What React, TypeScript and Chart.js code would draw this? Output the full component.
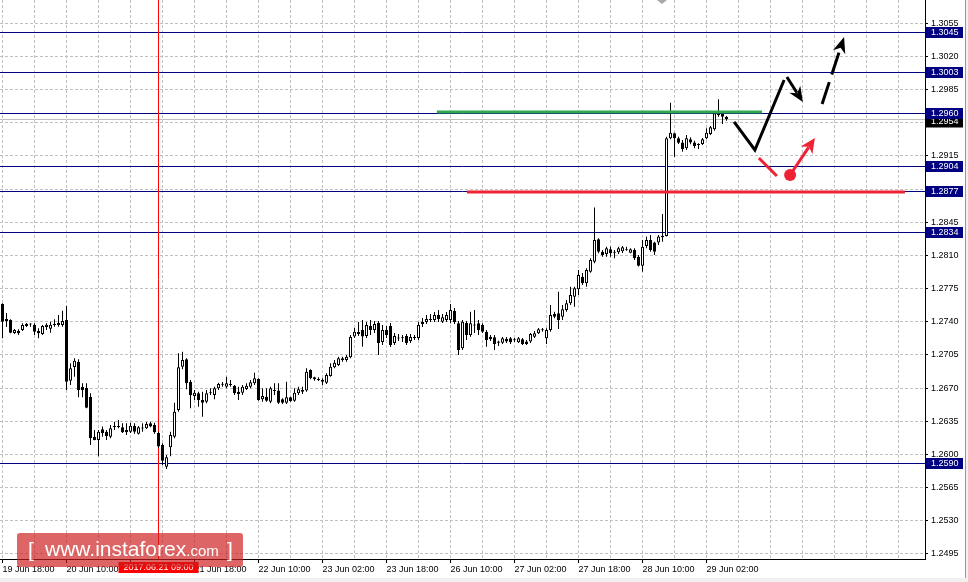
import { useEffect, useRef } from "react";
import { Chart, registerables } from "chart.js";
Chart.register(...registerables);

const FONT = "'Liberation Sans', Arial, sans-serif";

// Time axis labels, one every 16 hourly candles
const timeLabels = [
  "19 Jun 18:00", "20 Jun 10:00", "21 Jun 02:00", "21 Jun 18:00", "22 Jun 10:00", "23 Jun 02:00",
  "23 Jun 18:00", "26 Jun 10:00", "27 Jun 02:00", "27 Jun 18:00", "28 Jun 10:00", "29 Jun 02:00",
];

// H1 candles (index 0 = 19 Jun 18:00)
const open = [
  1.27588, 1.27430, 1.27419, 1.27282, 1.27303, 1.27313, 1.27356, 1.27377, 1.27370, 1.27303,
  1.27271, 1.27345, 1.27327, 1.27377, 1.27387, 1.27366, 1.27419, 1.26779, 1.26923, 1.26979,
  1.26716, 1.26705, 1.26610, 1.26188, 1.26153, 1.26266, 1.26241, 1.26188, 1.26290, 1.26301,
  1.26287, 1.26259, 1.26241, 1.26301, 1.26220, 1.26280, 1.26276, 1.26329, 1.26311, 1.26230,
  1.26100, 1.25871, 1.26076, 1.26188, 1.26470, 1.26927, 1.27004, 1.26768, 1.26617, 1.26645,
  1.26575, 1.26557, 1.26645, 1.26627, 1.26698, 1.26744, 1.26716, 1.26744, 1.26726, 1.26662,
  1.26651, 1.26691, 1.26716, 1.26751, 1.26797, 1.26582, 1.26610, 1.26557, 1.26681, 1.26674,
  1.26582, 1.26547, 1.26604, 1.26568, 1.26645, 1.26681, 1.26674, 1.26892, 1.26815, 1.26794,
  1.26786, 1.26758, 1.26829, 1.26920, 1.26945, 1.27015, 1.26997, 1.27025, 1.27246, 1.27292,
  1.27313, 1.27250, 1.27356, 1.27313, 1.27387, 1.27187, 1.27313, 1.27356, 1.27176, 1.27229,
  1.27229, 1.27250, 1.27197, 1.27240, 1.27229, 1.27377, 1.27398, 1.27430, 1.27419, 1.27472,
  1.27401, 1.27419, 1.27419, 1.27514, 1.27384, 1.27120, 1.27387, 1.27261, 1.27366, 1.27384,
  1.27366, 1.27296, 1.27243, 1.27236, 1.27191, 1.27180, 1.27219, 1.27226, 1.27208, 1.27184,
  1.27215, 1.27191, 1.27191, 1.27243, 1.27278, 1.27313, 1.27226, 1.27313, 1.27482, 1.27490,
  1.27454, 1.27525, 1.27595, 1.27665, 1.27743, 1.27876, 1.27807, 1.27929, 1.28035, 1.28271,
  1.28140, 1.28116, 1.28165, 1.28133, 1.28133, 1.28144, 1.28165, 1.28129, 1.28158, 1.28087,
  1.27991, 1.28200, 1.28264, 1.28236, 1.28236, 1.28307, 1.28306, 1.29337, 1.29389, 1.29337,
  1.29291, 1.29231, 1.29326, 1.29291, 1.29277, 1.29277, 1.29337, 1.29382, 1.29432, 1.29601,
  1.29593, 1.29565,
];
const high = [
  1.27595, 1.27493, 1.27426, 1.27324, 1.27321, 1.27384, 1.27387, 1.27384, 1.27384, 1.27331,
  1.27366, 1.27384, 1.27401, 1.27426, 1.27472, 1.27517, 1.27567, 1.26963, 1.27015, 1.27004,
  1.26751, 1.26751, 1.26645, 1.26259, 1.26259, 1.26294, 1.26259, 1.26311, 1.26346, 1.26364,
  1.26329, 1.26329, 1.26336, 1.26329, 1.26301, 1.26329, 1.26343, 1.26346, 1.26336, 1.26241,
  1.26118, 1.25995, 1.26241, 1.26547, 1.27068, 1.27085, 1.27015, 1.26786, 1.26681, 1.26662,
  1.26662, 1.26681, 1.26698, 1.26716, 1.26758, 1.26765, 1.26821, 1.26786, 1.26733, 1.26716,
  1.26733, 1.26751, 1.26786, 1.26863, 1.26804, 1.26698, 1.26698, 1.26716, 1.26751, 1.26751,
  1.26593, 1.26768, 1.26610, 1.26698, 1.26716, 1.26716, 1.26910, 1.26899, 1.26821, 1.26815,
  1.26804, 1.26856, 1.26963, 1.26997, 1.27032, 1.27032, 1.27050, 1.27261, 1.27335, 1.27398,
  1.27419, 1.27398, 1.27419, 1.27408, 1.27408, 1.27366, 1.27356, 1.27387, 1.27282, 1.27271,
  1.27261, 1.27271, 1.27271, 1.27261, 1.27398, 1.27440, 1.27472, 1.27482, 1.27503, 1.27525,
  1.27482, 1.27503, 1.27588, 1.27546, 1.27408, 1.27419, 1.27408, 1.27507, 1.27525, 1.27419,
  1.27384, 1.27313, 1.27261, 1.27261, 1.27201, 1.27240, 1.27240, 1.27240, 1.27229, 1.27240,
  1.27229, 1.27208, 1.27282, 1.27303, 1.27335, 1.27335, 1.27331, 1.27577, 1.27507, 1.27718,
  1.27577, 1.27630, 1.27770, 1.27770, 1.27947, 1.27915, 1.27965, 1.28070, 1.28605, 1.28282,
  1.28158, 1.28193, 1.28193, 1.28158, 1.28193, 1.28200, 1.28193, 1.28176, 1.28176, 1.28105,
  1.28264, 1.28299, 1.28317, 1.28246, 1.28317, 1.28539, 1.29354, 1.29712, 1.29396, 1.29354,
  1.29319, 1.29372, 1.29347, 1.29312, 1.29284, 1.29340, 1.29442, 1.29466, 1.29607, 1.29748,
  1.29601, 1.29572,
];
const low = [
  1.27226, 1.27345, 1.27278, 1.27271, 1.27261, 1.27303, 1.27345, 1.27348, 1.27261, 1.27226,
  1.27261, 1.27313, 1.27285, 1.27348, 1.27348, 1.27348, 1.26681, 1.26733, 1.26821, 1.26604,
  1.26604, 1.26487, 1.26100, 1.26150, 1.25982, 1.26188, 1.26153, 1.26171, 1.26259, 1.26276,
  1.26227, 1.26206, 1.26227, 1.26220, 1.26212, 1.26241, 1.26269, 1.26287, 1.26220, 1.26069,
  1.25889, 1.25847, 1.25982, 1.26171, 1.26452, 1.26899, 1.26688, 1.26487, 1.26575, 1.26504,
  1.26399, 1.26540, 1.26627, 1.26582, 1.26681, 1.26716, 1.26698, 1.26716, 1.26627, 1.26575,
  1.26627, 1.26681, 1.26698, 1.26733, 1.26568, 1.26557, 1.26557, 1.26540, 1.26627, 1.26533,
  1.26533, 1.26533, 1.26557, 1.26557, 1.26627, 1.26638, 1.26662, 1.26794, 1.26779, 1.26776,
  1.26733, 1.26744, 1.26821, 1.26910, 1.26934, 1.26979, 1.26979, 1.27015, 1.27229, 1.27250,
  1.27137, 1.27229, 1.27261, 1.27282, 1.27050, 1.27155, 1.27229, 1.27134, 1.27155, 1.27197,
  1.27187, 1.27155, 1.27176, 1.27208, 1.27208, 1.27345, 1.27377, 1.27398, 1.27398, 1.27398,
  1.27387, 1.27398, 1.27384, 1.27377, 1.27050, 1.27102, 1.27208, 1.27243, 1.27282, 1.27261,
  1.27282, 1.27137, 1.27197, 1.27102, 1.27145, 1.27166, 1.27176, 1.27166, 1.27187, 1.27176,
  1.27155, 1.27155, 1.27176, 1.27229, 1.27271, 1.27296, 1.27166, 1.27296, 1.27437, 1.27324,
  1.27419, 1.27507, 1.27577, 1.27559, 1.27683, 1.27789, 1.27770, 1.27919, 1.28018, 1.28123,
  1.28087, 1.28087, 1.28087, 1.28070, 1.28116, 1.28126, 1.28151, 1.28123, 1.28053, 1.27983,
  1.27929, 1.28176, 1.28140, 1.28105, 1.28211, 1.28246, 1.28299, 1.29326, 1.29143, 1.29277,
  1.29195, 1.29213, 1.29273, 1.29231, 1.29224, 1.29266, 1.29326, 1.29372, 1.29417, 1.29565,
  1.29487, 1.29522,
];
const close = [
  1.27401, 1.27408, 1.27285, 1.27313, 1.27278, 1.27366, 1.27377, 1.27372, 1.27296, 1.27278,
  1.27356, 1.27370, 1.27370, 1.27366, 1.27366, 1.27408, 1.26768, 1.26909, 1.26989, 1.26681,
  1.26681, 1.26494, 1.26171, 1.26153, 1.26241, 1.26227, 1.26195, 1.26276, 1.26301, 1.26290,
  1.26234, 1.26234, 1.26304, 1.26241, 1.26287, 1.26275, 1.26322, 1.26294, 1.26234, 1.26083,
  1.25934, 1.25970, 1.26206, 1.26452, 1.26920, 1.26997, 1.26751, 1.26624, 1.26651, 1.26575,
  1.26547, 1.26645, 1.26651, 1.26698, 1.26744, 1.26737, 1.26751, 1.26733, 1.26645, 1.26638,
  1.26716, 1.26726, 1.26761, 1.26804, 1.26575, 1.26617, 1.26568, 1.26698, 1.26670, 1.26547,
  1.26547, 1.26604, 1.26564, 1.26651, 1.26688, 1.26662, 1.26874, 1.26804, 1.26794, 1.26786,
  1.26768, 1.26839, 1.26927, 1.26969, 1.27015, 1.26997, 1.27032, 1.27240, 1.27296, 1.27271,
  1.27245, 1.27366, 1.27313, 1.27377, 1.27176, 1.27313, 1.27261, 1.27155, 1.27250, 1.27224,
  1.27226, 1.27176, 1.27240, 1.27229, 1.27366, 1.27398, 1.27430, 1.27419, 1.27472, 1.27430,
  1.27447, 1.27472, 1.27524, 1.27398, 1.27102, 1.27401, 1.27261, 1.27384, 1.27361, 1.27313,
  1.27296, 1.27208, 1.27215, 1.27166, 1.27180, 1.27226, 1.27191, 1.27184, 1.27205, 1.27226,
  1.27166, 1.27166, 1.27271, 1.27278, 1.27321, 1.27310, 1.27313, 1.27472, 1.27454, 1.27419,
  1.27532, 1.27595, 1.27683, 1.27753, 1.27894, 1.27807, 1.27947, 1.28052, 1.28264, 1.28140,
  1.28105, 1.28176, 1.28123, 1.28129, 1.28176, 1.28186, 1.28154, 1.28165, 1.28070, 1.27991,
  1.28193, 1.28264, 1.28158, 1.28140, 1.28299, 1.28293, 1.29337, 1.29396, 1.29337, 1.29290,
  1.29221, 1.29337, 1.29291, 1.29256, 1.29266, 1.29326, 1.29396, 1.29453, 1.29601, 1.29583,
  1.29565, 1.29540,
];

// Price axis ticks
const priceTicks = [
  1.2495, 1.2530, 1.2565, 1.2600, 1.2635, 1.2670, 1.2705, 1.2740, 1.2775,
  1.2810, 1.2845, 1.2880, 1.2915, 1.2950, 1.2985, 1.3020, 1.3055,
];
// Horizontal support / resistance levels
const levels = [1.3045, 1.3003, 1.2960, 1.2904, 1.2877, 1.2834, 1.2590];
const currentPrice = 1.2954;
const markerIndex = 39;
const markerLabel = "2017.06.21 09:00";

// Drawn annotations: [candle index, price]
const greenLine = [108.6, 189.9, 1.29615];
const redLine = [116.1, 225.6, 1.2877];
const blackPath = [[182.9, 1.29509], [188.1, 1.29213], [195.4, 1.29952]];
const blackArrow = [[196.1, 1.29983], [200.1, 1.2972]];
const blackDashArrow = [[204.9, 1.29699], [210.4, 1.30405]];
const redDash = [[189.1, 1.29129], [193.6, 1.28939]];
const redArrow = [[196.9, 1.28949], [203.1, 1.2934]];

const X_MIN = -0.625;
const X_MAX = 230.625;
const Y_MIN = 1.24897;
const Y_MAX = 1.30796;

function drawArrow(ctx: CanvasRenderingContext2D, x1: number, y1: number, x2: number, y2: number,
  color: string, width: number, dash: number[], headLen: number, headW: number) {
  const dx = x2 - x1, dy = y2 - y1;
  const len = Math.hypot(dx, dy);
  const ux = dx / len, uy = dy / len;
  const bx = x2 - ux * headLen, by = y2 - uy * headLen;
  ctx.save();
  ctx.strokeStyle = color;
  ctx.lineWidth = width;
  ctx.setLineDash(dash);
  ctx.beginPath();
  ctx.moveTo(x1, y1);
  ctx.lineTo(bx + ux * 4, by + uy * 4);
  ctx.stroke();
  ctx.setLineDash([]);
  ctx.fillStyle = color;
  ctx.beginPath();
  ctx.moveTo(x2, y2);
  ctx.lineTo(bx - uy * headW / 2, by + ux * headW / 2);
  ctx.lineTo(x2 - ux * headLen * 0.7, y2 - uy * headLen * 0.7);
  ctx.lineTo(bx + uy * headW / 2, by - ux * headW / 2);
  ctx.closePath();
  ctx.fill();
  ctx.restore();
}

const overlay = {
  id: "overlay",
  beforeDraw(chart: any) {
    const ctx = chart.ctx;
    ctx.save();
    ctx.fillStyle = "#ffffff";
    ctx.fillRect(0, 0, chart.width, chart.height);
    ctx.restore();
  },
  beforeDatasetsDraw(chart: any) {
    const { ctx, chartArea: a, scales } = chart;
    const x = scales.x, y = scales.y;
    ctx.save();
    ctx.beginPath();
    ctx.rect(a.left, a.top, a.right - a.left, a.bottom - a.top);
    ctx.clip();
    ctx.lineWidth = 1;
    // current price line
    const cy = Math.floor(y.getPixelForValue(currentPrice)) + 0.5;
    ctx.strokeStyle = "#c0c0c0";
    ctx.beginPath();
    ctx.moveTo(a.left, cy);
    ctx.lineTo(a.right, cy);
    ctx.stroke();
    // levels
    ctx.strokeStyle = "#000080";
    levels.forEach((lv) => {
      const py = Math.floor(y.getPixelForValue(lv)) + 0.5;
      ctx.beginPath();
      ctx.moveTo(a.left, py);
      ctx.lineTo(a.right, py);
      ctx.stroke();
    });
    // red vertical marker
    const vx = Math.floor(x.getPixelForValue(markerIndex)) + 0.5;
    ctx.strokeStyle = "#ff0000";
    ctx.beginPath();
    ctx.moveTo(vx, a.top);
    ctx.lineTo(vx, a.bottom);
    ctx.stroke();
    ctx.restore();
  },
  afterDatasetsDraw(chart: any) {
    const { ctx, scales } = chart;
    const x = scales.x, y = scales.y;
    const px = (v: number) => x.getPixelForValue(v);
    const py = (v: number) => y.getPixelForValue(v);
    ctx.save();
    ctx.lineCap = "butt";
    // green line
    ctx.strokeStyle = "#2fa84f";
    ctx.lineWidth = 3;
    ctx.beginPath();
    ctx.moveTo(px(greenLine[0]), py(greenLine[2]));
    ctx.lineTo(px(greenLine[1]), py(greenLine[2]));
    ctx.stroke();
    // red line
    ctx.strokeStyle = "#ee2233";
    ctx.beginPath();
    ctx.moveTo(px(redLine[0]), py(redLine[2]));
    ctx.lineTo(px(redLine[1]), py(redLine[2]));
    ctx.stroke();
    // black path
    ctx.strokeStyle = "#000000";
    ctx.lineWidth = 3;
    ctx.lineJoin = "miter";
    ctx.beginPath();
    blackPath.forEach((p, i) => {
      if (i === 0) ctx.moveTo(px(p[0]), py(p[1]));
      else ctx.lineTo(px(p[0]), py(p[1]));
    });
    ctx.stroke();
    drawArrow(ctx, px(blackArrow[0][0]), py(blackArrow[0][1]), px(blackArrow[1][0]), py(blackArrow[1][1]),
      "#000000", 3, [], 15, 13);
    drawArrow(ctx, px(blackDashArrow[0][0]), py(blackDashArrow[0][1]), px(blackDashArrow[1][0]), py(blackDashArrow[1][1]),
      "#000000", 3, [23, 8], 16, 13);
    // red dash
    ctx.strokeStyle = "#ee2233";
    ctx.lineWidth = 3;
    ctx.beginPath();
    ctx.moveTo(px(redDash[0][0]), py(redDash[0][1]));
    ctx.lineTo(px(redDash[1][0]), py(redDash[1][1]));
    ctx.stroke();
    drawArrow(ctx, px(redArrow[0][0]), py(redArrow[0][1]), px(redArrow[1][0]), py(redArrow[1][1]),
      "#ee2233", 3, [], 15, 14);
    ctx.fillStyle = "#ee2233";
    ctx.beginPath();
    ctx.arc(px(redArrow[0][0]), py(redArrow[0][1]), 6, 0, Math.PI * 2);
    ctx.fill();
    ctx.restore();
  },
  afterDraw(chart: any) {
    const { ctx, chartArea: a, scales } = chart;
    const x = scales.x, y = scales.y;
    ctx.save();
    ctx.font = `9px ${FONT}`;
    ctx.textBaseline = "middle";
    ctx.textAlign = "left";
    const bx = a.right + 1;
    // current price box (below level boxes)
    const cy = Math.floor(y.getPixelForValue(currentPrice)) + 0.5;
    ctx.fillStyle = "#000000";
    ctx.fillRect(bx, cy - 3, 37, 11);
    ctx.fillStyle = "#ffffff";
    ctx.fillText(currentPrice.toFixed(4), a.right + 6, cy + 2.5);
    levels.forEach((lv) => {
      const ly = Math.floor(y.getPixelForValue(lv)) + 0.5;
      ctx.fillStyle = "#000080";
      ctx.fillRect(bx, ly - 5.5, 37, 11);
      ctx.fillStyle = "#ffffff";
      ctx.fillText(lv.toFixed(4), a.right + 6, ly + 0.5);
    });
    // marker date box on time axis
    const mx = Math.floor(x.getPixelForValue(markerIndex)) + 0.5;
    ctx.fillStyle = "#ff0000";
    ctx.fillRect(mx - 40, a.bottom + 3, 80, 11);
    ctx.fillStyle = "#ffffff";
    ctx.textAlign = "center";
    ctx.fillText(markerLabel, mx, a.bottom + 9);
    // watermark logo
    ctx.fillStyle = "rgba(205, 28, 28, 0.68)";
    ctx.beginPath();
    const lx = 17, ly0 = 533, lw = 226, lh = 34, r = 3;
    ctx.moveTo(lx + r, ly0);
    ctx.lineTo(lx + lw - r, ly0);
    ctx.quadraticCurveTo(lx + lw, ly0, lx + lw, ly0 + r);
    ctx.lineTo(lx + lw, ly0 + lh - r);
    ctx.quadraticCurveTo(lx + lw, ly0 + lh, lx + lw - r, ly0 + lh);
    ctx.lineTo(lx + r, ly0 + lh);
    ctx.quadraticCurveTo(lx, ly0 + lh, lx, ly0 + lh - r);
    ctx.lineTo(lx, ly0 + r);
    ctx.quadraticCurveTo(lx, ly0, lx + r, ly0);
    ctx.fill();
    ctx.fillStyle = "#ffffff";
    ctx.textAlign = "left";
    ctx.textBaseline = "alphabetic";
    ctx.font = `21px ${FONT}`;
    ctx.fillText("[", 28, 557);
    ctx.fillText("www.instaforex", 45, 556);
    const w1 = ctx.measureText("www.instaforex").width;
    ctx.font = `15px ${FONT}`;
    ctx.fillText(".com", 45 + w1, 556);
    ctx.font = `21px ${FONT}`;
    ctx.fillText("]", 227, 557);
    // small grey marker at top
    ctx.fillStyle = "#a8a8a8";
    ctx.beginPath();
    ctx.moveTo(657, 0);
    ctx.lineTo(667, 0);
    ctx.lineTo(662, 4);
    ctx.closePath();
    ctx.fill();
    // window edges
    ctx.fillStyle = "#f0f0f0";
    ctx.fillRect(0, 578, chart.width, 4);
    ctx.fillRect(966, 0, 2, 582);
    ctx.strokeStyle = "#6c9fd6";
    ctx.lineWidth = 1;
    ctx.beginPath();
    ctx.moveTo(965.5, 0);
    ctx.lineTo(965.5, 578);
    ctx.stroke();
    ctx.restore();
  },
};

export default function App() {
  const ref = useRef<HTMLCanvasElement | null>(null);
  useEffect(() => {
    const canvas = ref.current;
    if (!canvas) return;
    const idx = open.map((_, i) => i);
    const wicks = idx.map((i) => ({ x: i, y: [low[i], high[i]] }));
    const bodies = idx.map((i) => ({ x: i, y: [open[i], close[i]] }));
    const bodyColors = idx.map((i) => (close[i] >= open[i] ? "#ffffff" : "#000000"));
    const gridTicks: number[] = [];
    for (let v = 0; v <= 224; v += 8) gridTicks.push(v);
    const labelFor = (v: number) =>
      v % 16 === 0 && v / 16 < timeLabels.length ? timeLabels[v / 16] : "";

    const chart = new Chart(canvas, {
      type: "bar",
      data: {
        datasets: [
          {
            label: "wick",
            data: wicks as any,
            backgroundColor: "#000000",
            borderWidth: 0,
            barThickness: 1,
            grouped: false,
            minBarLength: 1,
            inflateAmount: 0,
            order: 2,
          } as any,
          {
            label: "body",
            data: bodies as any,
            backgroundColor: bodyColors,
            borderColor: "#000000",
            borderWidth: 1,
            borderSkipped: false,
            barThickness: 3,
            grouped: false,
            minBarLength: 1,
            inflateAmount: 0,
            order: 1,
          } as any,
        ],
      },
      options: {
        responsive: false,
        animation: false,
        devicePixelRatio: 1,
        events: [],
        layout: { padding: 0 },
        plugins: { legend: { display: false }, tooltip: { enabled: false }, title: { display: false } },
        scales: {
          x: {
            type: "linear",
            min: X_MIN,
            max: X_MAX,
            offset: false,
            afterBuildTicks: (s: any) => {
              s.ticks = gridTicks.map((v) => ({ value: v }));
            },
            afterFit: (s: any) => {
              s.height = 23;
              s.paddingLeft = 0;
              s.paddingRight = 0;
            },
            ticks: {
              autoSkip: false,
              maxRotation: 0,
              minRotation: 0,
              align: "start",
              padding: 1,
              color: "#000000",
              font: { family: FONT, size: 9 },
              callback: (v: any) => labelFor(Number(v)),
            },
            grid: {
              offset: false,
              color: "#c0c0c0",
              lineWidth: 1,
              tickLength: 4,
              tickBorderDash: [],
              tickColor: (c: any) =>
                c.tick && labelFor(c.tick.value) !== "" ? "#000000" : "rgba(0,0,0,0)",
            },
            border: { color: "#000000", width: 1, dash: [3, 2] },
          } as any,
          y: {
            type: "linear",
            position: "right",
            min: Y_MIN,
            max: Y_MAX,
            beginAtZero: false,
            afterBuildTicks: (s: any) => {
              s.ticks = priceTicks.map((v) => ({ value: v }));
            },
            afterFit: (s: any) => {
              s.width = 43;
              s.paddingTop = 0;
              s.paddingBottom = 0;
            },
            ticks: {
              autoSkip: false,
              padding: 3,
              color: "#000000",
              font: { family: FONT, size: 9 },
              callback: (v: any) => Number(v).toFixed(4),
            },
            grid: {
              color: "#c0c0c0",
              lineWidth: 1,
              tickLength: 3,
              tickBorderDash: [],
              tickColor: "#000000",
            },
            border: { color: "#000000", width: 1, dash: [3, 2] },
          } as any,
        },
      },
      plugins: [overlay],
    });
    return () => chart.destroy();
  }, []);

  return (
    <div style={{ position: "fixed", left: 0, top: 0, width: 968, height: 582 }}>
      <canvas ref={ref} width={968} height={582} style={{ display: "block" }} />
    </div>
  );
}
